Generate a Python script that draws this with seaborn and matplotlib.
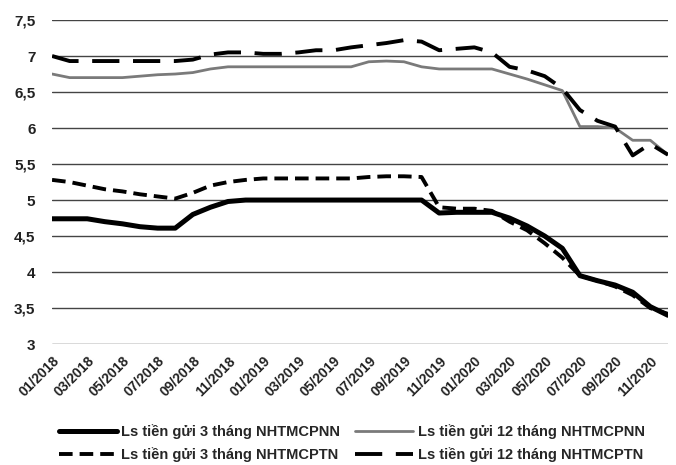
import matplotlib
matplotlib.use("Agg")
import matplotlib.pyplot as plt
import seaborn as sns
import pandas as pd
import numpy as np

months = [f"{m:02d}/{y}" for y in (2018, 2019, 2020) for m in range(1, 13)]

s3m_nn = [4.74, 4.74, 4.74, 4.70, 4.67, 4.63, 4.61, 4.61, 4.80, 4.90, 4.98, 5.00,
          5.00, 5.00, 5.00, 5.00, 5.00, 5.00, 5.00, 5.00, 5.00, 5.00, 4.82, 4.83,
          4.83, 4.83, 4.75, 4.64, 4.50, 4.33, 3.95, 3.88, 3.82, 3.72, 3.52, 3.40]
s12m_nn = [6.75, 6.70, 6.70, 6.70, 6.70, 6.72, 6.74, 6.75, 6.77, 6.82, 6.85, 6.85,
           6.85, 6.85, 6.85, 6.85, 6.85, 6.85, 6.92, 6.93, 6.92, 6.85, 6.82, 6.82,
           6.82, 6.82, 6.75, 6.68, 6.60, 6.52, 6.02, 6.02, 6.00, 5.83, 5.83, 5.63]
s3m_tn = [5.28, 5.25, 5.20, 5.15, 5.12, 5.08, 5.05, 5.02, 5.10, 5.20, 5.25, 5.28,
          5.30, 5.30, 5.30, 5.30, 5.30, 5.30, 5.32, 5.33, 5.33, 5.32, 4.90, 4.88,
          4.88, 4.85, 4.70, 4.58, 4.40, 4.20, 3.95, 3.88, 3.80, 3.68, 3.50, 3.42]
s12m_tn = [7.00, 6.93, 6.93, 6.93, 6.93, 6.93, 6.93, 6.93, 6.95, 7.02, 7.05, 7.05,
           7.03, 7.03, 7.05, 7.08, 7.08, 7.12, 7.15, 7.18, 7.22, 7.20, 7.08, 7.10,
           7.12, 7.05, 6.85, 6.80, 6.72, 6.55, 6.25, 6.10, 6.02, 5.62, 5.78, 5.63]

labels = ["Ls tiền gửi 3 tháng NHTMCPNN", "Ls tiền gửi 12 tháng NHTMCPNN",
          "Ls tiền gửi 3 tháng NHTMCPTN", "Ls tiền gửi 12 tháng NHTMCPTN"]
yticks = [3, 3.5, 4, 4.5, 5, 5.5, 6, 6.5, 7, 7.5]

sns.set_theme(style="white")
plt.rcParams["font.family"] = ["Liberation Sans", "DejaVu Sans"]

fig = plt.figure(figsize=(6.76, 4.65), dpi=100)
ax = fig.add_axes([0.077, 0.26, 0.911, 0.697])

x = np.arange(len(months))
series = [s3m_nn, s12m_nn, s3m_tn, s12m_tn]
styles = [
    dict(color="black", lw=3.6, dashes=None),
    dict(color="#7a7a7a", lw=2.0, dashes=None),
    dict(color="black", lw=2.8, dashes=(3.5, 1.8)),
    dict(color="black", lw=2.8, dashes=(7.0, 3.5)),
]
handles = []
for vals, lab, st in zip(series, labels, styles):
    df = pd.DataFrame({"x": x, "y": vals})
    sns.lineplot(data=df, x="x", y="y", ax=ax, color=st["color"], linewidth=st["lw"],
                 label=lab, legend=False)
    ln = ax.lines[-1]
    if st["dashes"] is not None:
        ln.set_dashes(st["dashes"])
    handles.append(ln)

ax.set_xlim(0, len(months) - 1)
ax.set_ylim(3, 7.5)
ax.set_yticks(yticks)
ax.set_yticklabels([("%g" % v).replace(".", ",") for v in yticks],
                   fontsize=11, fontweight="bold", color="#222222")
ax.set_xticks(x[::2])
ax.set_xticklabels(months[::2], rotation=45, ha="right", rotation_mode="anchor",
                   fontsize=10, fontweight="bold", color="#222222")
ax.tick_params(axis="x", length=3, color="#999999", pad=4)
ax.tick_params(axis="y", length=0, pad=12)
ax.set_xlabel("")
ax.set_ylabel("")
ax.yaxis.grid(True, color="#444444", linewidth=1.0)
ax.set_axisbelow(True)
for sp in ax.spines.values():
    sp.set_visible(False)

order = [0, 2, 1, 3]
fig.legend([handles[i] for i in order], [labels[i] for i in order],
           loc="lower center", bbox_to_anchor=(0.52, 0.0), ncol=2, frameon=False,
           prop={"size": 10.5, "weight": "bold"}, handlelength=4.0, columnspacing=1.0,
           handletextpad=0.3, labelspacing=0.55, borderaxespad=0.0, borderpad=0.2)

fig.savefig("out.png", dpi=100)
